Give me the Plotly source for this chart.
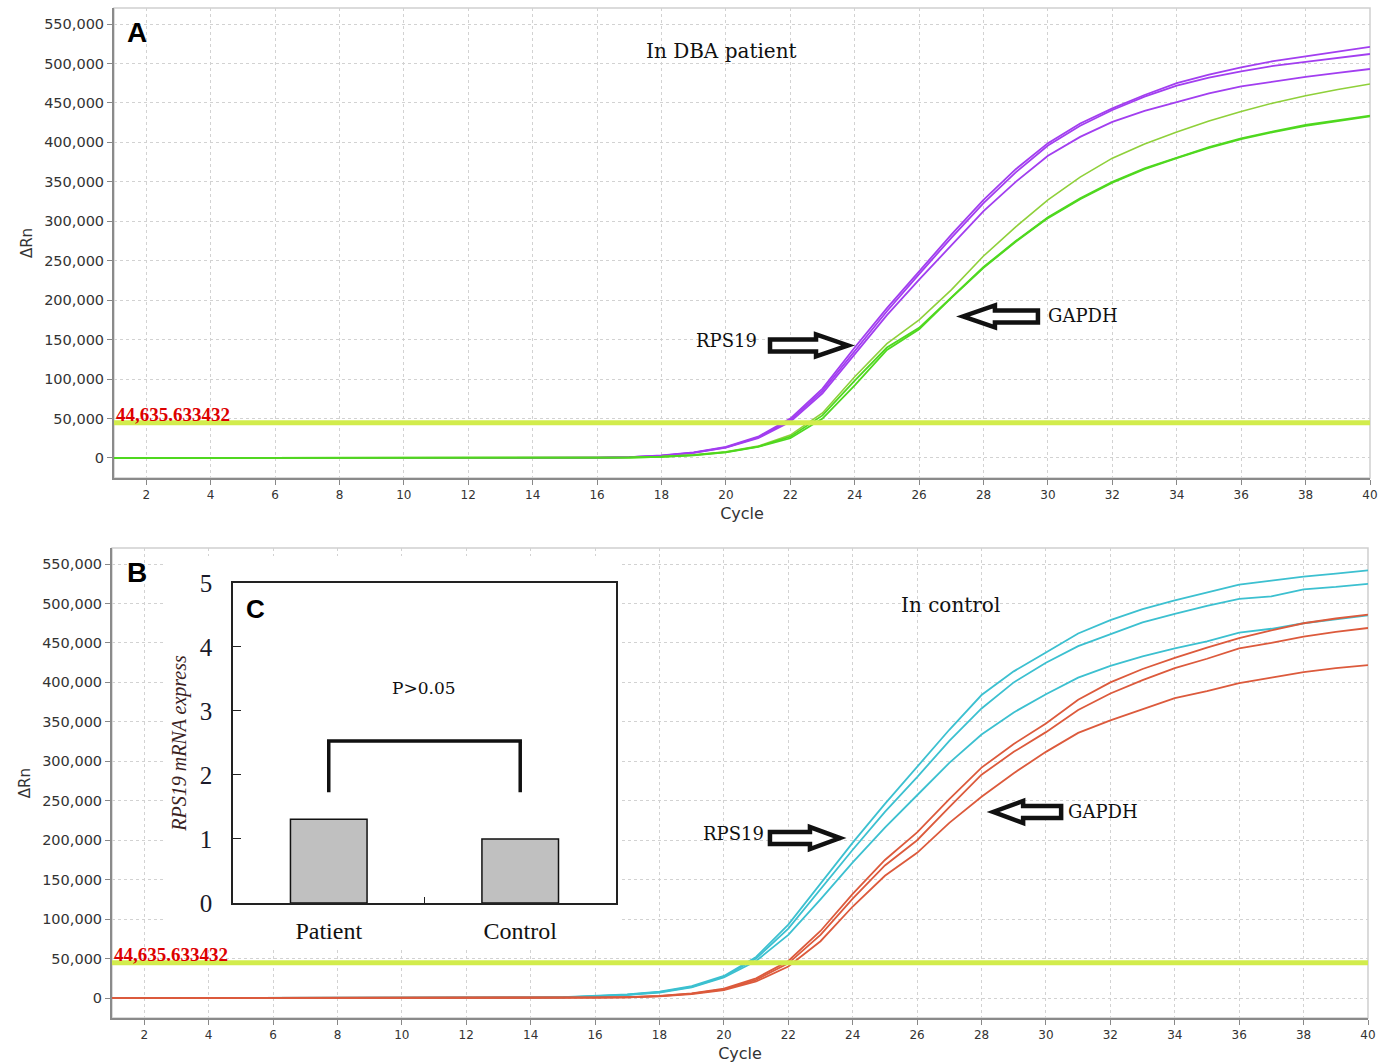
import plotly.graph_objects as go

cycles = list(range(1, 41))

# ---------------- Panel A (DBA patient) ----------------
rps19_patient_1 = [0, 0, 0, 0, 0, 0, 0, 0, 0, 0, 0, 0, 0, 0, 0,
                   300, 1200, 3200, 7000, 14000, 27000, 50000, 88000, 140000, 190000,
                   237000, 283000, 327000, 366000, 399000, 424000, 443000, 460000, 475000, 486000,
                   495000, 503000, 509000, 515000, 521000]
rps19_patient_2 = [0, 0, 0, 0, 0, 0, 0, 0, 0, 0, 0, 0, 0, 0, 0,
                   300, 1100, 3000, 6800, 13500, 26000, 48000, 85000, 136000, 186000,
                   233000, 279000, 323000, 362000, 396000, 421000, 441000, 458000, 472000, 482000,
                   490000, 497000, 502000, 507000, 512000]
rps19_patient_3 = [0, 0, 0, 0, 0, 0, 0, 0, 0, 0, 0, 0, 0, 0, 0,
                   250, 1000, 2800, 6500, 13000, 25000, 46000, 82000, 132000, 181000,
                   226000, 270000, 313000, 350000, 383000, 407000, 426000, 440000, 451000, 462000,
                   471000, 477000, 483000, 488000, 493000]
gapdh_patient_1 = [0, 0, 0, 0, 0, 0, 0, 0, 0, 0, 0, 0, 0, 0, 0,
                   200, 700, 1800, 4000, 8000, 15000, 29000, 57000, 103000, 145000,
                   175000, 213000, 256000, 293000, 327000, 356000, 380000, 398000, 413000, 427000,
                   439000, 450000, 459000, 467000, 474000]
gapdh_patient_2 = [0, 0, 0, 0, 0, 0, 0, 0, 0, 0, 0, 0, 0, 0, 0,
                   150, 600, 1600, 3600, 7500, 14500, 27000, 54000, 98000, 140000,
                   165000, 204000, 242000, 275000, 305000, 329000, 350000, 367000, 381000, 394000,
                   405000, 414000, 422000, 428000, 434000]
gapdh_patient_3 = [0, 0, 0, 0, 0, 0, 0, 0, 0, 0, 0, 0, 0, 0, 0,
                   150, 550, 1500, 3400, 7000, 14000, 25000, 50000, 92000, 137000,
                   163000, 203000, 241000, 274000, 304000, 328000, 349000, 366000, 380000, 393000,
                   404000, 413000, 421000, 427000, 433000]

# ---------------- Panel B (control) ----------------
rps19_control_1 = [0, 0, 0, 0, 0, 0, 0, 0, 0, 0, 0, 0, 0,
                   200, 1000, 2500, 4500, 8000, 15000, 28000, 52000, 93000, 145000, 197000,
                   246000, 293000, 340000, 384000, 414000, 438000, 462000, 479000, 493000, 504000,
                   514000, 524000, 529000, 534000, 538000, 542000]
rps19_control_2 = [0, 0, 0, 0, 0, 0, 0, 0, 0, 0, 0, 0, 0,
                   200, 900, 2300, 4200, 7500, 14000, 27000, 50000, 88000, 138000, 188000,
                   236000, 280000, 326000, 367000, 400000, 425000, 446000, 461000, 476000, 487000,
                   497000, 506000, 509000, 518000, 521000, 525000]
rps19_control_3 = [0, 0, 0, 0, 0, 0, 0, 0, 0, 0, 0, 0, 0,
                   150, 800, 2000, 4000, 7000, 13500, 26000, 47000, 80000, 125000, 172000,
                   216000, 257000, 298000, 334000, 362000, 385000, 406000, 421000, 433000, 443000,
                   452000, 463000, 468000, 475000, 480000, 485000]
gapdh_control_1 = [0, 0, 0, 0, 0, 0, 0, 0, 0, 0, 0, 0, 0, 0,
                   100, 500, 1200, 2800, 6000, 12000, 25000, 47000, 85000, 132000,
                   175000, 210000, 252000, 292000, 322000, 348000, 378000, 400000, 417000, 431000,
                   444000, 456000, 466000, 475000, 481000, 486000]
gapdh_control_2 = [0, 0, 0, 0, 0, 0, 0, 0, 0, 0, 0, 0, 0, 0,
                   100, 400, 1000, 2500, 5500, 11000, 23000, 44000, 80000, 126000,
                   168000, 200000, 242000, 283000, 312000, 337000, 365000, 386000, 403000, 418000,
                   430000, 443000, 450000, 458000, 464000, 469000]
gapdh_control_3 = [0, 0, 0, 0, 0, 0, 0, 0, 0, 0, 0, 0, 0, 0,
                   100, 350, 900, 2200, 5000, 10000, 21000, 40000, 72000, 116000,
                   155000, 184000, 222000, 255000, 285000, 312000, 336000, 352000, 366000, 380000,
                   389000, 399000, 406000, 413000, 418000, 422000]

threshold = 44635.633432
threshold_label = "44,635.633432"

# ---------------- Inset C ----------------
groups = ["Patient", "Control"]
rps19_expression = [1.31, 1.0]
bracket_heights = [1.73, 2.53, 2.53, 1.73]
p_text = "P>0.05"

y_ticks = [0, 50000, 100000, 150000, 200000, 250000, 300000, 350000, 400000, 450000, 500000, 550000]
x_ticks = list(range(2, 41, 2))

PURPLE = "#a23ef0"
GREEN_LIGHT = "#8fd03a"
GREEN = "#4fd81f"
CYAN = "#3cc0d0"
RED = "#dc5a3c"
THRESH = "#d2ec4c"

fig = go.Figure()

def add_line(y, color, xa, ya, width=1.8):
    fig.add_trace(go.Scatter(x=cycles, y=y, mode="lines", line=dict(color=color, width=width),
                             xaxis=xa, yaxis=ya, showlegend=False, hoverinfo="skip"))

# Panel A
for s in [rps19_patient_1, rps19_patient_2, rps19_patient_3]:
    add_line(s, PURPLE, "x", "y")
add_line(gapdh_patient_1, GREEN_LIGHT, "x", "y", 1.6)
add_line(gapdh_patient_2, GREEN, "x", "y")
add_line(gapdh_patient_3, GREEN, "x", "y")
fig.add_trace(go.Scatter(x=[cycles[0], cycles[-1]], y=[threshold, threshold], mode="lines",
                         line=dict(color=THRESH, width=5), xaxis="x", yaxis="y",
                         showlegend=False, hoverinfo="skip"))

# Panel B
for s in [rps19_control_1, rps19_control_2, rps19_control_3]:
    add_line(s, CYAN, "x2", "y2")
for s in [gapdh_control_1, gapdh_control_2, gapdh_control_3]:
    add_line(s, RED, "x2", "y2")
fig.add_trace(go.Scatter(x=[cycles[0], cycles[-1]], y=[threshold, threshold], mode="lines",
                         line=dict(color=THRESH, width=5), xaxis="x2", yaxis="y2",
                         showlegend=False, hoverinfo="skip"))

# white background subplot for inset (x3/y3)
fig.add_trace(go.Scatter(x=[None], y=[None], xaxis="x3", yaxis="y3", showlegend=False,
                         hoverinfo="skip"))

# Inset C (x4/y4)
fig.add_trace(go.Bar(x=groups, y=rps19_expression, width=0.4, xaxis="x4", yaxis="y4",
                     marker=dict(color="#c0c0c0", line=dict(color="#111111", width=1.5)),
                     showlegend=False, hoverinfo="skip"))
fig.add_trace(go.Scatter(x=[groups[0], groups[0], groups[1], groups[1]], y=bracket_heights,
                         mode="lines", line=dict(color="#111111", width=3.5),
                         xaxis="x4", yaxis="y4", showlegend=False, hoverinfo="skip"))

grid = dict(showgrid=True, gridcolor="#d2d2d2", gridwidth=1, griddash="3px,3px")
xcommon = dict(range=[1, 40], tickmode="array", tickvals=x_ticks, ticks="outside", ticklen=5,
               tickcolor="#888", showline=True, linecolor="#8a8a8a", linewidth=2,
               tickfont=dict(family="DejaVu Sans", size=12, color="#333"),
               title=dict(text="Cycle", font=dict(family="DejaVu Sans", size=16, color="#333"),
                          standoff=6),
               zeroline=False, automargin=False, **grid)
ycommon = dict(range=[-25300, 570300], tickmode="array", tickvals=y_ticks, tickformat=",d",
               ticks="outside", ticklen=5, tickcolor="#888", showline=True, linecolor="#8a8a8a",
               linewidth=2, tickfont=dict(family="DejaVu Sans", size=14.5, color="#333"),
               title=dict(text="ΔRn", font=dict(family="DejaVu Sans", size=15, color="#333"),
                          standoff=8),
               zeroline=False, automargin=False, **grid)

fig.update_layout(
    width=1391, height=1064, autosize=False,
    margin=dict(l=112, r=21, t=8, b=46),
    paper_bgcolor="white", plot_bgcolor="white",
    font=dict(family="DejaVu Sans"),
    xaxis=dict(domain=[0.00159, 1], anchor="y", **xcommon),
    yaxis=dict(domain=[0.5347, 1], anchor="x", **ycommon),
    xaxis2=dict(domain=[0, 0.99841], anchor="y2", **xcommon),
    yaxis2=dict(domain=[0, 0.4653], anchor="x2", **ycommon),
    xaxis3=dict(domain=[0.0421, 0.4038], anchor="y3", range=[0, 1], visible=False,
                automargin=False),
    yaxis3=dict(domain=[0.0693, 0.4574], anchor="x3", range=[0, 1], visible=False,
                automargin=False),
    xaxis4=dict(domain=[0.0962, 0.4006], anchor="y4", range=[-0.5, 1.5], type="category",
                showline=True, linecolor="#222", linewidth=1.5, mirror=True,
                ticks="inside", tickson="boundaries", ticklen=6, tickcolor="#222",
                showgrid=False, zeroline=False, automargin=False, ticklabelstandoff=5,
                tickfont=dict(family="Liberation Serif", size=24, color="#111")),
    yaxis4=dict(domain=[0.1139, 0.4307], anchor="x4", range=[0, 5], dtick=1,
                showline=True, linecolor="#222", linewidth=1.5, mirror=True,
                ticks="inside", ticklen=8, tickcolor="#222", showgrid=False, zeroline=False,
                automargin=False, ticklabelstandoff=14,
                tickfont=dict(family="Liberation Serif", size=25, color="#1a1a2a"),
                title=dict(text="<i>RPS19 mRNA express</i>",
                           font=dict(family="Liberation Serif", size=20, color="#3a2222"),
                           standoff=8)),
    bargap=0.6,
)

# frames (light top/right borders)
for xr, yr in [("x domain", "y domain"), ("x2 domain", "y2 domain")]:
    fig.add_shape(type="rect", xref=xr, yref=yr, x0=0, x1=1, y0=0, y1=1,
                  line=dict(color="#cfcfcf", width=1.5), layer="below")

# white background behind inset
fig.add_shape(type="rect", xref="x3", yref="y3", x0=0, x1=1, y0=0, y1=1,
              line=dict(width=0), fillcolor="white", layer="below")

# block arrows
right_arrow = "M0,-6 L46,-6 L46,-11 L78,0 L46,11 L46,6 L0,6 Z"
left_arrow = "M0,0 L32,-11 L32,-6 L75,-6 L75,6 L32,6 L32,11 Z"
right_arrow_b = "M0,-6 L40,-6 L40,-11 L70,0 L40,11 L40,6 L0,6 Z"
left_arrow_b = "M0,0 L30,-11 L30,-6 L68,-6 L68,6 L30,6 L30,11 Z"
for path, xr, yr, xa, ya in [(right_arrow, "x", "y", 21.37, 142600),
                             (left_arrow, "x", "y", 27.36, 179400),
                             (right_arrow_b, "x2", "y2", 21.43, 202800),
                             (left_arrow_b, "x2", "y2", 28.36, 235800)]:
    fig.add_shape(type="path", xref=xr, yref=yr, xsizemode="pixel", ysizemode="pixel",
                  xanchor=xa, yanchor=ya, path=path, fillcolor="white",
                  line=dict(color="#111111", width=4.5), layer="above")

serif = dict(family="DejaVu Serif", size=18, color="#111")
serif_big = dict(family="DejaVu Serif", size=20, color="#111")
ann = [
    dict(text="In DBA patient", x=19.85, y=515800, xref="x", yref="y", font=serif_big),
    dict(text="RPS19", x=20.03, y=148300, xref="x", yref="y", font=serif),
    dict(text="GAPDH", x=31.09, y=180000, xref="x", yref="y", font=serif),
    dict(text="In control", x=27.05, y=498100, xref="x2", yref="y2", font=serif_big),
    dict(text="RPS19", x=20.3, y=209100, xref="x2", yref="y2", font=serif),
    dict(text="GAPDH", x=31.77, y=235800, xref="x2", yref="y2", font=serif),
    dict(text="<b>A</b>", x=0.018, y=0.947, xref="x domain", yref="y domain",
         font=dict(family="Liberation Sans", size=28, color="black")),
    dict(text="<b>B</b>", x=0.02, y=0.947, xref="x2 domain", yref="y2 domain",
         font=dict(family="Liberation Sans", size=28, color="black")),
    dict(text="<b>C</b>", x=0.06, y=0.92, xref="x4 domain", yref="y4 domain",
         font=dict(family="Liberation Sans", size=26, color="black")),
    dict(text=p_text, x=0.5, y=3.36, xref="x4", yref="y4",
         font=dict(family="DejaVu Serif", size=17, color="#111")),
]
for a in ann:
    a.setdefault("xanchor", "center")
    a.setdefault("yanchor", "middle")
for xr, yr in [("x", "y"), ("x2", "y2")]:
    ann.append(dict(text="<b>" + threshold_label + "</b>", x=1, y=threshold, xref=xr, yref=yr,
                    xanchor="left", yanchor="middle", yshift=8,
                    font=dict(family="Liberation Serif", size=19, color="#dd0000")))
for a in ann:
    a.setdefault("showarrow", False)
    fig.add_annotation(**a)

fig.write_html("out.html", config={"displayModeBar": False},
               post_script="document.body.style.margin='0px';document.body.style.overflow='hidden';")
